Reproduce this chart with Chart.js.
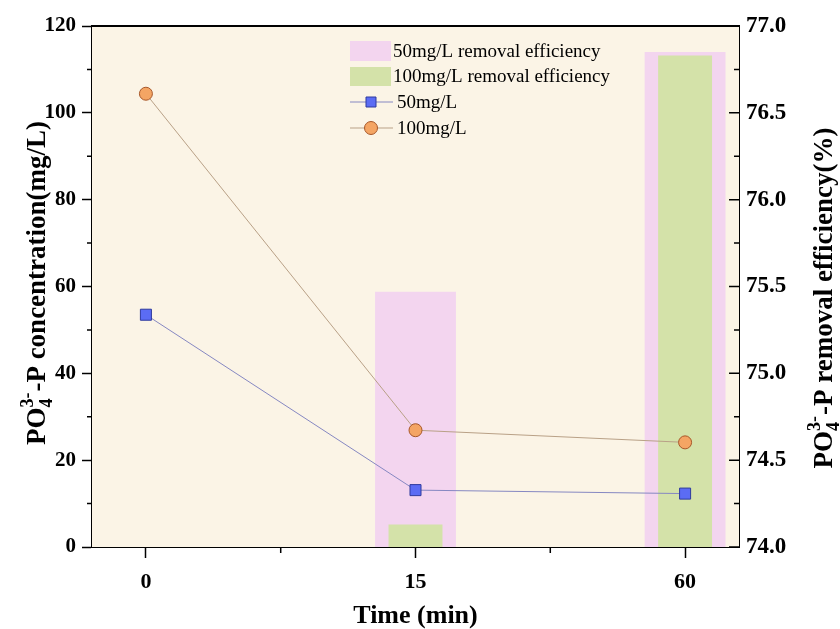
<!DOCTYPE html>
<html>
<head>
<meta charset="utf-8">
<script src="https://cdn.jsdelivr.net/npm/chart.js@4/dist/chart.umd.min.js"></script>
<style>
  body { margin: 0; background: #fff; }
  #wrap { width: 840px; height: 629px; }
</style>
</head>
<body>
<div id="wrap"><canvas id="c" width="840" height="629"></canvas></div>
<script>
// values
const timeLabels = ['0', '15', '60'];
const conc50 = [53.5, 13.1, 12.3];
const conc100 = [104.4, 26.9, 24.1];
const eff50 = [null, 75.47, 76.85];
const eff100 = [null, 74.13, 76.83];

const serif = 'Liberation Serif';

function points(arr) {
    return arr.map((v, i) => ({ x: i, y: v })).filter(p => p.y !== null);
}

// plot background, frame, minor ticks, inward right ticks, titles, legend
const decor = {
    id: 'decor',
    beforeDatasetsDraw(chart) {
        const { ctx, chartArea: a } = chart;
        ctx.save();
        ctx.fillStyle = '#FBF4E6';
        ctx.fillRect(a.left, a.top, a.right - a.left, a.bottom - a.top);
        ctx.restore();
    },
    afterDraw(chart) {
        const { ctx, chartArea: a, scales } = chart;
        ctx.save();
        ctx.strokeStyle = '#000';
        ctx.lineWidth = 2;
        ctx.beginPath();
        ctx.moveTo(a.left - 1, a.top);
        ctx.lineTo(a.right + 1, a.top);
        ctx.stroke();

        ctx.lineWidth = 1.5;
        ctx.beginPath();
        // left minor ticks
        for (let v = 10; v < 120; v += 20) {
            const y = scales.y.getPixelForValue(v);
            ctx.moveTo(a.left, y); ctx.lineTo(a.left - 5, y);
        }
        // right ticks point inward
        for (let v = 74; v <= 77.001; v += 0.25) {
            const y = scales.y1.getPixelForValue(v);
            const major = Math.abs(v * 2 - Math.round(v * 2)) < 0.01;
            ctx.moveTo(a.right, y); ctx.lineTo(a.right - (major ? 10 : 5), y);
        }
        // bottom minor ticks
        [0.5, 1.5].forEach(v => {
            const x = scales.x.getPixelForValue(v);
            ctx.moveTo(x, a.bottom); ctx.lineTo(x, a.bottom + 6);
        });
        ctx.stroke();

        // axis titles
        ctx.fillStyle = '#000';
        ctx.textBaseline = 'alphabetic';
        ctx.font = 'bold 26px ' + serif;
        ctx.textAlign = 'center';
        ctx.fillText('Time (min)', (a.left + a.right) / 2, 623);

        drawPOTitle(ctx, '-P concentration(mg/L)', 45, 283);
        drawPOTitle(ctx, '-P removal efficiency(%)', 832, 298);

        drawLegend(chart);
        ctx.restore();
    }
};

function drawPOTitle(ctx, rest, x, y) {
    const big = 'bold 27px ' + serif;
    const small = 'bold 18px ' + serif;
    ctx.font = big;
    const w1 = ctx.measureText('PO').width;
    const w3 = ctx.measureText(rest).width;
    ctx.font = small;
    const w2 = Math.max(ctx.measureText('4').width, ctx.measureText('3-').width) + 1;
    const total = w1 + w2 + w3;
    ctx.save();
    ctx.translate(x, y);
    ctx.rotate(-Math.PI / 2);
    ctx.textAlign = 'left';
    let cx = -total / 2;
    ctx.font = big;
    ctx.fillText('PO', cx, 0);
    cx += w1;
    ctx.font = small;
    ctx.fillText('4', cx, 7);
    ctx.fillText('3-', cx, -12);
    cx += w2;
    ctx.font = big;
    ctx.fillText(rest, cx, 0);
    ctx.restore();
}

function drawLegend(chart) {
    const { ctx } = chart;
    const ds = chart.data.datasets;
    const x0 = 350, bw = 41;
    ctx.font = '19px ' + serif;
    ctx.textAlign = 'left';
    ctx.textBaseline = 'middle';

    // bar entries
    [[ds[3], 41, 20], [ds[2], 67, 19]].forEach(([d, top, h]) => {
        ctx.fillStyle = d.backgroundColor;
        ctx.fillRect(x0, top, bw, h);
        ctx.fillStyle = '#000';
        ctx.fillText(d.label, x0 + bw + 2, top + h / 2 + 1);
    });

    // line entries
    [[ds[0], 102], [ds[1], 128]].forEach(([d, y]) => {
        ctx.strokeStyle = d.borderColor;
        ctx.lineWidth = 1;
        ctx.beginPath();
        ctx.moveTo(x0, y); ctx.lineTo(x0 + bw + 2, y);
        ctx.stroke();
        const cx = x0 + 21;
        ctx.fillStyle = d.pointBackgroundColor;
        ctx.strokeStyle = d.pointBorderColor;
        ctx.beginPath();
        if (d.pointStyle === 'rect') {
            ctx.rect(cx - 5, y - 5, 10, 10);
        } else {
            ctx.arc(cx, y, 6.5, 0, Math.PI * 2);
        }
        ctx.fill(); ctx.stroke();
        ctx.fillStyle = '#000';
        ctx.fillText(d.label, x0 + 47, y + 1);
    });
}

new Chart(document.getElementById('c'), {
    type: 'bar',
    data: {
        datasets: [
            {
                type: 'line', label: '50mg/L', data: points(conc50), yAxisID: 'y', order: 0,
                borderColor: '#8688C2', borderWidth: 1,
                pointStyle: 'rect', pointRadius: 7.8,
                pointBackgroundColor: '#5B6CF4', pointBorderColor: '#2F3B9E', pointBorderWidth: 1
            },
            {
                type: 'line', label: '100mg/L', data: points(conc100), yAxisID: 'y', order: 1,
                borderColor: '#B9A187', borderWidth: 1,
                pointStyle: 'circle', pointRadius: 6.5,
                pointBackgroundColor: '#F4A564', pointBorderColor: '#A8582A', pointBorderWidth: 1
            },
            {
                label: '100mg/L removal efficiency', data: points(eff100), yAxisID: 'y1', order: 2,
                backgroundColor: '#D4E2A9', barPercentage: 0.2, categoryPercentage: 1
            },
            {
                label: '50mg/L removal efficiency', data: points(eff50), yAxisID: 'y1', order: 3,
                backgroundColor: '#F3D5EF', barPercentage: 0.3, categoryPercentage: 1
            }
        ]
    },
    options: {
        responsive: false,
        animation: false,
        events: [],
        layout: { padding: { top: 26, left: 0, right: 0, bottom: 0 } },
        datasets: { bar: { grouped: false } },
        plugins: { legend: { display: false }, tooltip: { enabled: false } },
        scales: {
            x: {
                type: 'linear', min: -0.2, max: 2.2, offset: false,
                afterBuildTicks: s => { s.ticks = timeLabels.map((t, i) => ({ value: i })); },
                afterFit: s => { s.height = 82; },
                border: { color: '#000', width: 2 },
                grid: { offset: false, drawOnChartArea: false, tickLength: 11, tickColor: '#000', tickWidth: 1.5 },
                ticks: {
                    color: '#000', padding: 11,
                    font: { family: serif, size: 22, weight: 'bold' },
                    callback: v => timeLabels[Math.round(v)]
                }
            },
            y: {
                position: 'left', min: 0, max: 120,
                afterFit: s => { s.width = 92; },
                border: { color: '#000', width: 2 },
                grid: { drawOnChartArea: false, tickLength: 10, tickColor: '#000', tickWidth: 1.5 },
                ticks: {
                    stepSize: 20, color: '#000', padding: 6,
                    font: { family: serif, size: 21, weight: 'bold' }
                }
            },
            y1: {
                position: 'right', min: 74, max: 77,
                afterFit: s => { s.width = 101; },
                border: { color: '#000', width: 2 },
                grid: { drawOnChartArea: false, drawTicks: false },
                ticks: {
                    stepSize: 0.5, color: '#000', padding: 7,
                    font: { family: serif, size: 23, weight: 'bold' },
                    callback: v => v.toFixed(1)
                }
            }
        }
    },
    plugins: [decor]
});
</script>
</body>
</html>
